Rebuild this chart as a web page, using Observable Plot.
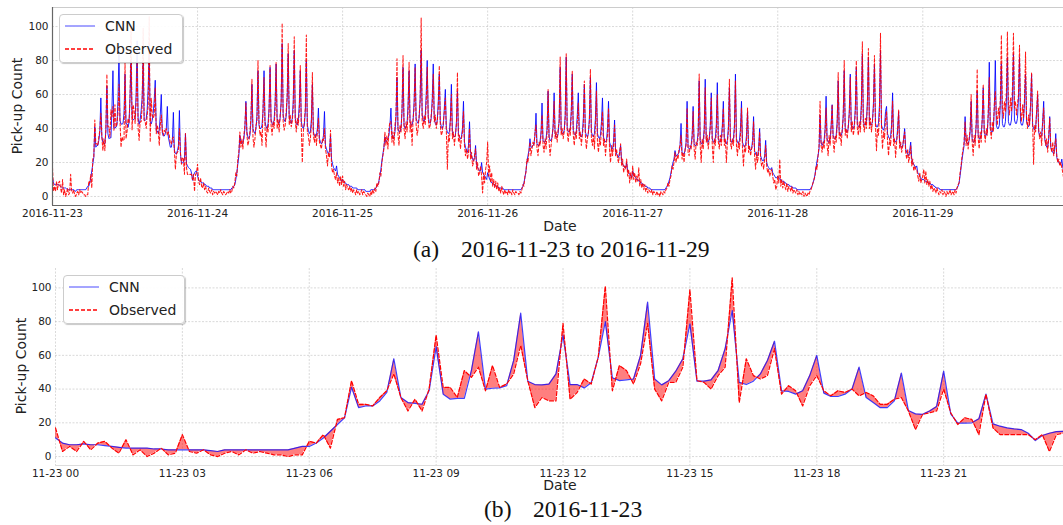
<!DOCTYPE html>
<html>
<head>
<meta charset="utf-8">
<script src="https://cdn.jsdelivr.net/npm/d3@7"></script>
<script src="https://cdn.jsdelivr.net/npm/@observablehq/plot@0.6"></script>
<style>
  html, body { margin: 0; padding: 0; background: #fff; }
  #fig { position: relative; width: 1063px; height: 525px; overflow: hidden; font-family: "DejaVu Sans", sans-serif; color: #222; }
  #fig svg.plot { position: absolute; left: 0; }
  .lbl { position: absolute; font-size: 14px; white-space: nowrap; transform: translate(-50%, -50%); line-height: 1; }
  .ylbl { transform: translate(-50%, -50%) rotate(-90deg); }
  .cap { position: absolute; font-family: "Liberation Serif", "Times New Roman", serif; font-size: 23.6px; white-space: nowrap; line-height: 1; transform: translateY(-50%); color: #111; }
  .legend { position: absolute; border: 1px solid #ccc; border-radius: 4px; background: rgba(255,255,255,0.92); box-shadow: 1px 1px 1px rgba(0,0,0,0.22); }
  .legend .row { position: absolute; left: 0; height: 20px; display: flex; align-items: center; font-size: 14px; white-space: nowrap; }
  .legend svg { margin-left: 5px; margin-right: 10px; }
</style>
</head>
<body>
<div id="fig"></div>
<script>
// ---------- DATA (10-minute counts, 144 per day) ----------
const startDay = "2016-11-23";
const dayTicks = ["2016-11-23","2016-11-24","2016-11-25","2016-11-26","2016-11-27","2016-11-28","2016-11-29"];
const hourTicks = ["00","03","06","09","12","15","18","21"];
const yTicks = [0, 20, 40, 60, 80, 100];
const seriesNames = ["CNN", "Observed"];

// Day 1: 2016-11-23 (also shown in panel b)
const cnnDay1 = [
  11,8,7,7,7.5,7, 7,6.5,6,5.5,5,5, 5,5,4.5,4.5,4,4, 4,4,4,4,3.5,3, 4,4,4,4,4,4, 4,4,4,4,5,6,
  6,8,11,15,19,23, 41,29,30,30,33,38, 58,35,32,31.5,31,39, 65,37,34,34.5,34.5,51,
  74,40,40.5,40.7,42,57, 85,44.7,42.7,42.5,43,49, 72,42.7,42.7,40.7,43.7,59, 80,46.7,45,45.5,46,60,
  91.6,46,42.5,45,50.6,58, 78.7,44.7,44.7,45.5,51,64, 86.6,44,42.7,44.7,49,57, 68.4,39,38.6,37,39,48,
  60,37.6,35.6,35.6,37,40, 53,35,32,29,29,33, 49.5,27.3,25.3,25,27,29.7, 50.6,25.3,19.8,19.8,20,22.4,
  37,19.4,18,17,16.4,16, 13.8,9.5,12.5,13.8,14.8,15
];
const obsDay1 = [
  17,3,6,3,9,4, 8,9,5,2,10,1, 4,0,2,5,1,2, 13,3,2,4,1,0, 2,3,1,4,2,3, 2,1,1,0,1,1,
  9,8,13,5,22,23, 45,31,31,30,35,39, 49,35,27,34,27,40, 72,41,41,35,51,47,
  53,39,54,41,43,49, 66,45,29,35,33,33, 79,34,38,46,43,59, 101,39,54,51,43,55,
  79,40,33,44,44,53, 99,45,44,40,48,53, 106,32,58,48,46,48, 64,37,42,39,30,42,
  48,39,36,39,38,40, 36,38,36,31,31,34, 35,27,16,25,26,27, 40,26,19,23,22,13,
  37,17,13,13,13,13, 13,10,13,3,13,14
];
// Day 2: 2016-11-24
const cnnDay2 = [
  12,10,9,9,8,8, 8,7,7,6,6,6, 5,5,5,4,4,4, 4,4,4,4,4,4, 4,4,4,4,4,4, 4,4,4,4,5,5,
  6,7,10,14,19,24, 36,32,31,32,34,40, 56,38,35,34,36,44, 66,40,38,37,40,48,
  74,42,40,40,42,50, 74,44,41,40,43,52, 76,45,43,42,45,55, 78,46,44,43,46,56,
  90,48,45,44,47,58, 84,47,44,43,46,56, 86,46,43,42,45,54, 74,44,41,40,42,50,
  80,42,39,37,38,45, 66,38,36,35,36,40, 52,34,32,31,32,36, 50,30,28,26,25,27,
  36,22,19,17,16,15, 18,13,12,11,10,9
];
const obsDay2 = [
  19,9,7,11,6,5, 8,4,6,3,2,5, 3,2,4,1,3,2, 3,2,1,3,2,4, 2,1,3,2,1,2, 3,2,4,2,3,6,
  5,8,14,12,22,26, 38,29,34,28,36,42, 55,36,30,33,38,47, 69,35,29,34,42,44,
  80,44,36,38,30,52, 70,40,29,41,38,50, 77,42,36,44,40,52, 79,40,45,38,48,54,
  102,44,39,42,50,60, 90,42,48,41,44,52, 94,45,38,46,42,50, 77,40,20,38,44,52,
  95,38,36,30,34,42, 73,36,32,37,30,38, 46,32,30,28,34,33, 40,28,24,18,26,23,
  39,18,14,16,12,10, 14,8,11,6,12,7
];
// Day 3: 2016-11-25
const cnnDay3 = [
  10,9,8,8,7,7, 7,6,6,6,5,5, 5,5,5,4,4,4, 4,4,4,4,4,3, 3,3,3,3,4,4, 4,4,4,5,6,7,
  9,12,16,21,25,29, 35,32,33,34,36,42, 52,36,34,35,38,46, 70,40,38,38,40,50,
  76,42,40,41,43,54, 74,44,42,42,45,56, 78,46,44,43,46,58, 86,48,45,44,47,60,
  80,47,44,43,46,58, 78,46,43,42,45,56, 72,44,41,40,42,52, 63,40,38,37,38,46,
  66,38,36,35,36,44, 62,37,35,34,35,40, 56,32,29,27,26,30, 44,26,24,22,21,23,
  30,19,17,16,15,15, 20,14,13,12,11,10
];
const obsDay3 = [
  12,6,9,4,7,5, 4,6,3,5,2,4, 3,1,4,2,3,1, 2,4,1,3,2,1, 0,2,1,0,3,1, 4,2,5,3,8,6,
  8,14,12,20,24,28, 38,30,36,28,40,44, 44,32,38,30,42,48, 81,36,30,42,38,52,
  83,40,34,44,38,50, 79,38,44,30,46,52, 76,42,36,40,48,56, 105,44,40,48,42,56,
  76,46,40,42,48,54, 72,44,48,40,44,52, 77,42,36,38,44,50, 58,38,16,36,32,44,
  60,34,38,30,36,42, 73,32,36,28,34,38, 50,30,24,28,22,26, 40,22,26,18,20,24,
  28,16,20,12,14,18, 12,2,14,8,16,20
];
// Day 4: 2016-11-26
const cnnDay4 = [
  14,12,10,9,8,8, 7,7,6,6,6,5, 5,5,5,5,4,4, 4,4,4,4,4,4, 4,4,4,4,4,4, 4,4,4,4,5,6,
  8,11,15,20,24,27, 34,29,29,30,31,36, 49,31,30,30,32,38, 55,33,32,32,34,40,
  62,35,33,33,35,42, 61,37,35,35,37,45, 76,39,37,37,39,48, 82,40,38,38,40,50,
  72,39,37,36,38,48, 61,38,36,35,37,46, 66,38,36,35,37,46, 70,38,36,35,37,46,
  67,37,35,34,36,44, 58,35,33,32,33,40, 56,32,30,28,28,32, 45,27,25,24,23,26,
  30,21,19,18,17,17, 20,15,14,13,12,11
];
const obsDay4 = [
  32,12,18,8,14,6, 10,5,9,4,8,3, 5,2,6,3,1,4, 2,3,1,4,2,3, 1,4,2,1,3,2, 2,1,3,2,4,7,
  6,12,14,22,20,26, 32,24,28,32,30,38, 42,28,24,32,30,36, 48,30,26,34,28,38,
  63,32,24,30,36,40, 56,34,38,32,40,44, 82,36,40,34,38,46, 84,38,32,40,36,48,
  74,36,30,38,34,44, 55,34,38,30,36,42, 68,36,28,34,38,44, 75,34,30,36,28,42,
  62,32,26,34,30,40, 50,30,34,24,32,36, 52,28,20,30,24,30, 42,24,28,22,20,26,
  31,18,22,14,18,16, 22,12,16,8,14,10
];
// Day 5: 2016-11-27
const cnnDay5 = [
  15,13,12,11,10,10, 9,9,8,8,7,7, 6,6,6,5,5,5, 4,4,4,4,4,4, 4,4,4,4,4,4, 4,4,4,5,6,7,
  9,11,14,17,20,22, 27,24,24,25,26,30, 43,26,25,25,27,32, 56,29,28,28,30,36,
  53,31,30,30,32,38, 68,33,31,31,33,40, 69,34,32,32,34,42, 61,34,32,32,34,42,
  67,34,32,32,34,42, 56,33,32,31,33,41, 64,34,32,32,34,42, 72,34,32,31,33,40,
  56,32,30,29,30,36, 50,30,28,27,28,33, 47,27,25,24,24,28, 40,24,22,21,21,24,
  33,20,18,17,16,16, 17,14,13,12,11,11
];
const obsDay5 = [
  18,10,14,8,12,9, 17,6,10,5,8,4, 7,3,5,2,4,3, 2,4,1,3,2,1, 3,1,2,0,3,2, 1,3,2,4,5,8,
  6,10,12,18,16,20, 26,20,24,22,28,30, 36,22,26,20,28,30, 52,26,24,30,28,34,
  50,28,22,32,30,36, 72,30,20,34,28,38, 64,32,36,28,34,40, 58,30,20,34,30,38,
  60,32,28,36,30,40, 52,30,34,20,32,38, 69,32,28,34,30,40, 68,30,24,32,28,36,
  52,28,18,30,26,34, 52,26,30,24,28,30, 44,24,16,26,20,26, 38,22,18,20,16,22,
  30,18,14,16,12,14, 16,12,8,10,4,6
];
// Day 6: 2016-11-28
const cnnDay6 = [
  12,11,10,10,9,9, 9,8,8,7,7,7, 6,6,6,5,5,5, 5,4,4,4,4,4, 4,4,4,4,4,4, 4,4,4,5,6,8,
  10,13,17,21,24,28, 48,32,30,31,33,40, 59,34,32,32,34,42, 54,36,34,34,36,44,
  68,38,36,36,38,48, 74,40,38,38,40,50, 72,42,40,40,42,52, 76,43,41,41,43,54,
  84,44,42,42,44,56, 82,44,42,42,44,55, 78,43,41,41,43,54, 86,42,40,39,41,50,
  53,37,35,34,35,42, 61,35,33,32,33,40, 50,32,30,29,29,34, 40,28,26,25,24,27,
  32,22,20,19,18,17, 18,14,13,12,11,10
];
const obsDay6 = [
  12,8,22,6,10,5, 9,6,4,8,3,6, 5,3,6,2,4,3, 2,4,1,3,1,2, 1,3,0,2,1,0, 2,1,3,4,6,8,
  10,12,18,16,24,30, 56,30,26,32,28,38, 52,30,24,36,30,40, 54,32,26,36,32,42,
  73,34,38,30,40,46, 80,36,40,34,42,48, 70,38,44,36,40,50, 80,40,36,44,38,52,
  91,42,38,46,40,54, 87,40,46,38,44,52, 83,42,27,40,36,50, 96,40,28,38,34,46,
  50,32,24,34,30,40, 56,30,34,23,32,38, 51,28,32,26,30,34, 38,26,22,28,20,24,
  30,18,22,15,18,16, 16,12,9,14,8,10
];
// Day 7: 2016-11-29
const cnnDay7 = [
  10,10,9,9,9,8, 8,8,7,7,7,6, 6,5,5,5,5,4, 4,4,4,4,4,4, 4,4,4,4,4,4, 4,4,4,4,5,6,
  8,12,17,22,26,30, 47,33,31,31,33,38, 56,34,32,32,34,42, 62,36,34,34,36,45,
  64,38,36,36,38,48, 79,40,38,38,40,52, 80,42,40,40,42,55, 78,43,41,41,44,56,
  82,44,42,42,45,58, 84,45,43,43,46,58, 82,44,42,42,45,56, 72,44,42,41,43,54,
  72,42,40,39,40,50, 60,38,36,35,36,44, 56,34,31,29,29,34, 47,29,27,26,25,28,
  37,23,21,20,19,19, 22,17,15,14,13,12
];
const obsDay7 = [
  12,16,8,15,7,10, 6,9,4,7,3,5, 4,2,5,3,1,3, 2,4,1,3,2,0, 3,1,2,4,1,2, 3,1,4,2,5,7,
  8,14,18,24,28,32, 44,30,36,28,34,40, 60,32,24,36,30,44, 75,34,28,38,32,46,
  66,38,32,40,36,50, 70,40,34,44,38,54, 62,48,42,52,46,58, 95,52,46,56,50,62,
  97,54,48,58,50,64, 96,52,56,48,54,60, 89,50,44,54,46,58, 85,46,40,48,42,54,
  73,44,19,42,38,50, 62,40,34,38,30,44, 52,36,30,34,26,36, 46,30,26,32,24,30,
  34,24,20,22,18,20, 17,14,10,12,8,6
];

const cnnDays = [cnnDay1, cnnDay2, cnnDay3, cnnDay4, cnnDay5, cnnDay6, cnnDay7];
const obsDays = [obsDay1, obsDay2, obsDay3, obsDay4, obsDay5, obsDay6, obsDay7];

// ---------- BUILD ----------
const STEP = 10 * 60 * 1000, DAY = 24 * 3600 * 1000;
const t0 = Date.parse(startDay + "T00:00:00Z");
const week = [];
cnnDays.forEach((arr, k) => arr.forEach((v, i) => {
  week.push({t: new Date(t0 + k * DAY + i * STEP), cnn: v, obs: obsDays[k][i]});
}));
const day1 = week.slice(0, 144);

const dayTickDates = dayTicks.map(s => new Date(Date.parse(s + "T00:00:00Z")));
const hourTickDates = hourTicks.map(h => new Date(Date.parse(startDay + "T" + h + ":00:00Z")));

const fig = document.getElementById("fig");
const gridStyle = {stroke: "#b5b5b5", strokeOpacity: 0.5, strokeDasharray: "2,1.5", strokeWidth: 1};
const baseStyle = {fontFamily: "DejaVu Sans, sans-serif", fontSize: "10.5px", color: "#222", background: "transparent", overflow: "visible"};

// Panel (a)
const xDomA = [new Date(t0), new Date(t0 + 6.97 * DAY)];
const yDomA = [-5.3, 111.2];
const pa = Plot.plot({
  width: 1063, height: 235, marginLeft: 52, marginRight: 0, marginTop: 7, marginBottom: 30,
  style: baseStyle,
  x: {type: "utc", domain: xDomA, label: null},
  y: {domain: yDomA, label: null},
  marks: [
    Plot.gridY(yTicks, gridStyle),
    Plot.gridX(dayTickDates, gridStyle),
    Plot.lineY(week, {x: "t", y: "cnn", stroke: "blue", strokeWidth: 1, strokeOpacity: 0.85, clip: true}),
    Plot.lineY(week, {x: "t", y: "obs", stroke: "red", strokeWidth: 1.05, strokeOpacity: 0.9, strokeDasharray: "3,2", clip: true}),
    Plot.ruleY([yDomA[0]], {stroke: "#666", strokeWidth: 1.2}),
    Plot.ruleY([yDomA[1]], {stroke: "#ccc", strokeWidth: 1}),
    Plot.ruleX([xDomA[0]], {stroke: "#666", strokeWidth: 1.2}),
    Plot.axisX(dayTickDates, {tickSize: 0, tickPadding: 4, tickFormat: d3.utcFormat("%Y-%m-%d"), label: null}),
    Plot.axisY(yTicks, {tickSize: 0, tickPadding: 4, label: null})
  ]
});
pa.classList.add("plot");
pa.style.top = "0px";
fig.appendChild(pa);

// Panel (b)
const xDomB = [day1[0].t, day1[day1.length - 1].t];
const yDomB = [-5.3, 111.5];
const pb = Plot.plot({
  width: 1063, height: 235, marginLeft: 55, marginRight: 0, marginTop: 8, marginBottom: 30,
  style: baseStyle,
  x: {type: "utc", domain: xDomB, label: null},
  y: {domain: yDomB, label: null},
  marks: [
    Plot.gridY(yTicks, gridStyle),
    Plot.gridX(hourTickDates, gridStyle),
    Plot.ruleY([yDomB[0]], {stroke: "#ddd"}),
    Plot.areaY(day1, {x: "t", y1: "cnn", y2: "obs", fill: "red", fillOpacity: 0.5, clip: true}),
    Plot.lineY(day1, {x: "t", y: "cnn", stroke: "blue", strokeWidth: 1.2, strokeOpacity: 0.75, clip: true}),
    Plot.lineY(day1, {x: "t", y: "obs", stroke: "red", strokeWidth: 1.2, strokeDasharray: "4,2", clip: true}),
    Plot.axisX(hourTickDates, {tickSize: 0, tickPadding: 4, tickFormat: d3.utcFormat("%m-%d %H"), label: null}),
    Plot.axisY(yTicks, {tickSize: 0, tickPadding: 4, label: null})
  ]
});
pb.classList.add("plot");
pb.style.top = "260px";
fig.appendChild(pb);

// ---------- TEXT OVERLAYS ----------
function addText(cls, txt, x, y) {
  const d = document.createElement("div");
  d.className = cls; d.textContent = txt;
  d.style.left = x + "px"; d.style.top = y + "px";
  fig.appendChild(d);
  return d;
}
addText("lbl ylbl", "Pick-up Count", 17, 106);
addText("lbl", "Date", 560, 226);
addText("lbl ylbl", "Pick-up Count", 21, 366);
addText("lbl", "Date", 560, 485);
addText("cap", "(a)", 413, 250);
addText("cap", "2016-11-23 to 2016-11-29", 461, 250);
addText("cap", "(b)", 484, 510);
addText("cap", "2016-11-23", 533, 510);

function addLegend(x, y, w, h) {
  const box = document.createElement("div");
  box.className = "legend";
  Object.assign(box.style, {left: x + "px", top: y + "px", width: w + "px", height: h + "px"});
  const styles = [
    {stroke: "blue", opacity: 0.55, dash: null},
    {stroke: "red", opacity: 1, dash: "4,2"}
  ];
  seriesNames.forEach((name, i) => {
    const row = document.createElement("div");
    row.className = "row";
    row.style.top = (1 + i * 23) + "px";
    const s = styles[i];
    row.innerHTML = `<svg width="30" height="10"><line x1="0" x2="30" y1="5" y2="5" stroke="${s.stroke}" stroke-opacity="${s.opacity}" stroke-width="1.3" ${s.dash ? `stroke-dasharray="${s.dash}"` : ""}/></svg><span>${name}</span>`;
    box.appendChild(row);
  });
  fig.appendChild(box);
}
addLegend(59, 14, 122, 47);
addLegend(63, 275, 120, 47);
</script>
</body>
</html>
